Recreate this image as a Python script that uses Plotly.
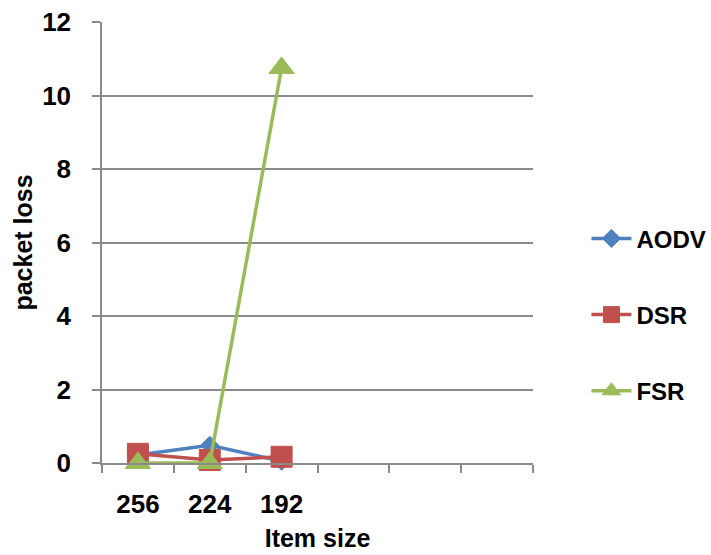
import plotly.graph_objects as go

# Item sizes on the category axis; the last three slots stay empty
item_sizes = ["256", "224", "192"]
n_slots = 6

aodv = [0.22, 0.48, 0.05]
dsr = [0.25, 0.08, 0.17]
fsr = [0.0, 0.0, 10.75]

y_ticks = [0, 2, 4, 6, 8, 10, 12]

FONT = "Liberation Sans, Arial, sans-serif"
GRID = "#8a8a8a"

x_pos = list(range(len(item_sizes)))

fig = go.Figure()

series = [
    ("AODV", aodv, "#4F81BD", "diamond", 14),
    ("DSR", dsr, "#C0504D", "square", 21),
    ("FSR", fsr, "#9BBB59", "triangle-up", 22),
]

for name, vals, color, symbol, size in series:
    fig.add_trace(go.Scatter(
        x=x_pos, y=vals, name=name, mode="lines+markers",
        line=dict(color=color, width=3.5),
        marker=dict(symbol=symbol, size=size, color=color,
                    line=dict(color=color, width=1)),
        cliponaxis=False, legendgroup=name,
    ))

fig.update_layout(
    width=711, height=555,
    margin=dict(l=102, r=178, t=22, b=92, autoexpand=False),
    paper_bgcolor="white", plot_bgcolor="white",
    font=dict(family=FONT, color="black"),
    showlegend=True,
    legend=dict(
        x=1.124, xanchor="left", y=0.336, yanchor="middle",
        font=dict(family=FONT, size=24, color="black", weight="bold"),
        tracegroupgap=42, bgcolor="rgba(0,0,0,0)",
        itemwidth=40,
    ),
    xaxis=dict(
        range=[-0.5, n_slots - 0.5],
        tickvals=x_pos, ticktext=item_sizes,
        ticks="", showgrid=False, zeroline=False,
        showline=True, linecolor=GRID, linewidth=1.5,
        tickfont=dict(family=FONT, size=26, color="black", weight="bold"),
        ticklabelstandoff=17,
        minor=dict(tickvals=[i - 0.5 for i in range(n_slots + 1)],
                   ticks="outside", ticklen=8, tickcolor=GRID,
                   tickwidth=1.5, showgrid=False),
        title=dict(text="<b>Item size</b>", standoff=12,
                   font=dict(family=FONT, size=25, color="black")),
    ),
    yaxis=dict(
        range=[0, 12], tickvals=y_ticks,
        showgrid=True, gridcolor=GRID, gridwidth=1.5,
        zeroline=False, showline=True, linecolor=GRID, linewidth=1.5,
        ticks="outside", ticklen=8, tickcolor=GRID, tickwidth=1.5,
        tickfont=dict(family=FONT, size=26, color="black", weight="bold"),
        ticklabelstandoff=16,
        title=dict(text="<b>packet loss</b>", standoff=2,
                   font=dict(family=FONT, size=25, color="black")),
    ),
)

fig.write_html("out.html")
